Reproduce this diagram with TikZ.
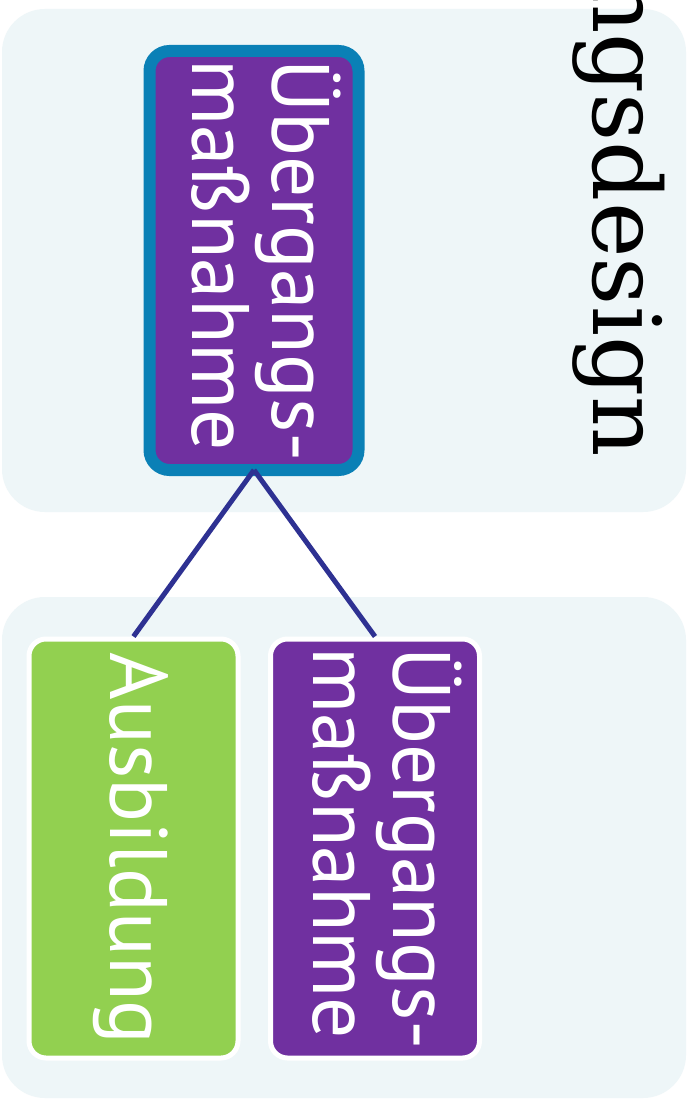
\documentclass[tikz,border=0pt]{standalone}
\usepackage{fontspec}
\setmainfont{PT Sans}
\newfontfamily\titlefont{DejaVu Serif}
\definecolor{panelbg}{HTML}{EEF6F8}
\definecolor{boxpurple}{HTML}{7030A0}
\definecolor{boxgreen}{HTML}{92D050}
\definecolor{borderblue}{HTML}{0A80B6}
\definecolor{connnavy}{HTML}{2E3192}
\newcommand{\topstrut}{\rule{0pt}{75pt}}
\newcommand{\botstrut}{\rule[-31pt]{0pt}{31pt}}
\begin{document}
\begin{tikzpicture}[x=1pt,y=-1pt,
  panel/.style={fill=panelbg, rounded corners=43pt},
  boxbase/.style={rotate=-90, text=white, inner sep=0pt,
    font=\fontsize{81.5}{80}\selectfont, minimum height=209pt, minimum width=419pt},
  twoline/.style={boxbase, align=left},
  topbox/.style={twoline, fill=boxpurple, draw=borderblue, line width=12pt, rounded corners=20pt, outer sep=0pt},
  purplechild/.style={twoline, fill=boxpurple, draw=white, line width=5pt, rounded corners=17pt},
  greenchild/.style={boxbase, align=center, text height=55pt, text depth=8pt, fill=boxgreen, draw=white, line width=5pt, rounded corners=17pt},
  conn/.style={draw=connnavy, line width=5pt},
  titletext/.style={rotate=-90, inner sep=0pt, anchor=base east, font=\titlefont\fontsize{94}{110}\selectfont}
]
\useasboundingbox (0,0) rectangle (691,1099);
\fill[white] (0,0) rectangle (691,1099);
\fill[panel] (2,9) rectangle (686,512);
\fill[panel] (2,597) rectangle (686,1098);
\begin{scope}
  \clip (0,0) rectangle (691,1099);
  \node[titletext] (title) at (593,457) {Forschungsdesign};
\end{scope}
\node[topbox] (top) at (254,260.5) {\topstrut Übergangs-\\maßnahme\botstrut};
\node[greenchild] (ausb) at (133.5,848.5) {Ausbildung};
\node[purplechild] (uem) at (375,848.5) {\topstrut Übergangs-\\maßnahme\botstrut};
\draw[conn] (top.east) -- (ausb.west);
\draw[conn] (top.east) -- (uem.west);
\end{tikzpicture}
\end{document}
